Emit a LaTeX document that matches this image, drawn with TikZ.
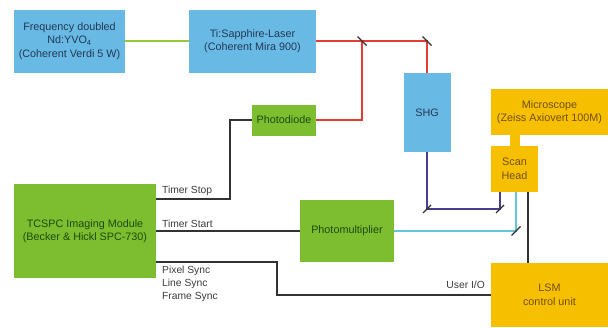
\documentclass[tikz,border=0pt]{standalone}
\usepackage{fontspec}
\setmainfont{Liberation Sans}
\usetikzlibrary{calc}
\definecolor{bbox}{RGB}{104,186,229}
\definecolor{gbox}{RGB}{124,190,48}
\definecolor{obox}{RGB}{246,191,0}
\definecolor{btext}{RGB}{35,55,85}
\definecolor{gtext}{RGB}{30,75,8}
\definecolor{otext}{RGB}{115,80,0}
\definecolor{redl}{RGB}{228,60,50}
\definecolor{purl}{RGB}{75,60,140}
\definecolor{cyal}{RGB}{100,196,216}
\definecolor{grel}{RGB}{150,200,60}
\definecolor{blkl}{RGB}{50,50,50}
\definecolor{lbl}{RGB}{60,60,60}
\begin{document}
\begin{tikzpicture}[x=1pt,y=-1pt,
  box/.style={draw=none,rectangle,inner sep=0pt,align=center,font=\fontsize{10.8}{13.5}\selectfont},
  bluebox/.style={box,fill=bbox,text=btext},
  greenbox/.style={box,fill=gbox,text=gtext},
  orangebox/.style={box,fill=obox,text=otext},
  conn/.style={line width=2pt},
  mirror/.style={line width=1.3pt,blkl},
  lab/.style={font=\fontsize{10.3}{13}\selectfont,text=lbl,inner sep=0pt}]
\useasboundingbox (0,0) rectangle (608,327);
\fill[white] (0,0) rectangle (608,327);
% boxes
\node[bluebox,minimum width=111,minimum height=63] (nd) at (69.5,41) {Frequency doubled\\Nd:YVO\textsubscript{4}\\(Coherent Verdi 5 W)};
\node[bluebox,minimum width=127,minimum height=63] (ti) at (252.5,41) {Ti:Sapphire-Laser\\(Coherent Mira 900)};
\node[greenbox,minimum width=64,minimum height=31] (pd) at (284,120) {Photodiode};
\node[bluebox,minimum width=47,minimum height=79] (shg) at (427,112.5) {SHG};
\node[orangebox,minimum width=117,minimum height=46] (mic) at (549.5,112) {Microscope\\(Zeiss Axiovert 100M)};
\node[orangebox,minimum width=47,minimum height=46] (scan) at (514.5,169) {Scan\\Head};
\node[greenbox,minimum width=142,minimum height=94] (tc) at (85,231) {TCSPC Imaging Module\\(Becker \& Hickl SPC-730)};
\node[greenbox,minimum width=94,minimum height=62] (pmt) at (347,231) {Photomultiplier};
\node[orangebox,minimum width=117,minimum height=64] (lsm) at (549.5,295) {LSM\\control unit};
% stub microscope - scan head
\fill[obox] (510,134) rectangle (520,147);
% coordinates
\coordinate (m1) at (362,41);
\coordinate (m2) at (427,41);
\coordinate (m3) at (427,209);
\coordinate (m4) at (500,209);
\coordinate (m5) at (516,231);
\coordinate (ts) at (156,199);
\coordinate (tsc) at (230,199);
\coordinate (ps) at (156,262);
\coordinate (psc) at (277,262);
\coordinate (sb) at (528,192);
% green pump
\draw[conn,draw=grel] (nd.east) -- (ti.west);
% red
\draw[conn,draw=redl] (ti.east) -- (m2) -- (shg.north);
\draw[conn,draw=redl] (m1) -- (m1 |- pd.east) -- (pd.east);
% purple
\draw[conn,draw=purl] (shg.south) -- (m3) -- (m4) -- (m4 |- scan.south);
% cyan
\draw[conn,draw=cyal] (pmt.east) -- (m5) -- (m5 |- scan.south);
% black lines
\draw[conn,draw=blkl] (sb) -- (sb |- lsm.north);
\draw[conn,draw=blkl] (ts) -- (tsc) -- (tsc |- pd.west) -- (pd.west);
\draw[conn,draw=blkl] (tc.east) -- (pmt.west);
\draw[conn,draw=blkl] (ps) -- (psc) -- (psc |- lsm.west) -- (lsm.west);
% mirrors
\draw[mirror] ($(m1)+(-4.5,-4.5)$) -- ($(m1)+(4.5,4.5)$);
\draw[mirror] ($(m2)+(-4.5,-4.5)$) -- ($(m2)+(4.5,4.5)$);
\draw[mirror] ($(m3)+(-4,4)$) -- ($(m3)+(4,-4)$);
\draw[mirror] ($(m4)+(-4,4)$) -- ($(m4)+(4,-4)$);
\draw[mirror] ($(m5)+(-4.5,4.5)$) -- ($(m5)+(4.5,-4.5)$);
% labels
\node[lab,anchor=west] (l1) at (162,191) {Timer Stop};
\node[lab,anchor=west] (l2) at (162,224) {Timer Start};
\node[lab,anchor=west] (l3) at (162,271) {Pixel Sync};
\node[lab,anchor=west] (l4) at (162,284) {Line Sync};
\node[lab,anchor=west] (l5) at (162,297) {Frame Sync};
\node[lab,anchor=east] (l6) at (485,285) {User I/O};
\end{tikzpicture}
\end{document}
